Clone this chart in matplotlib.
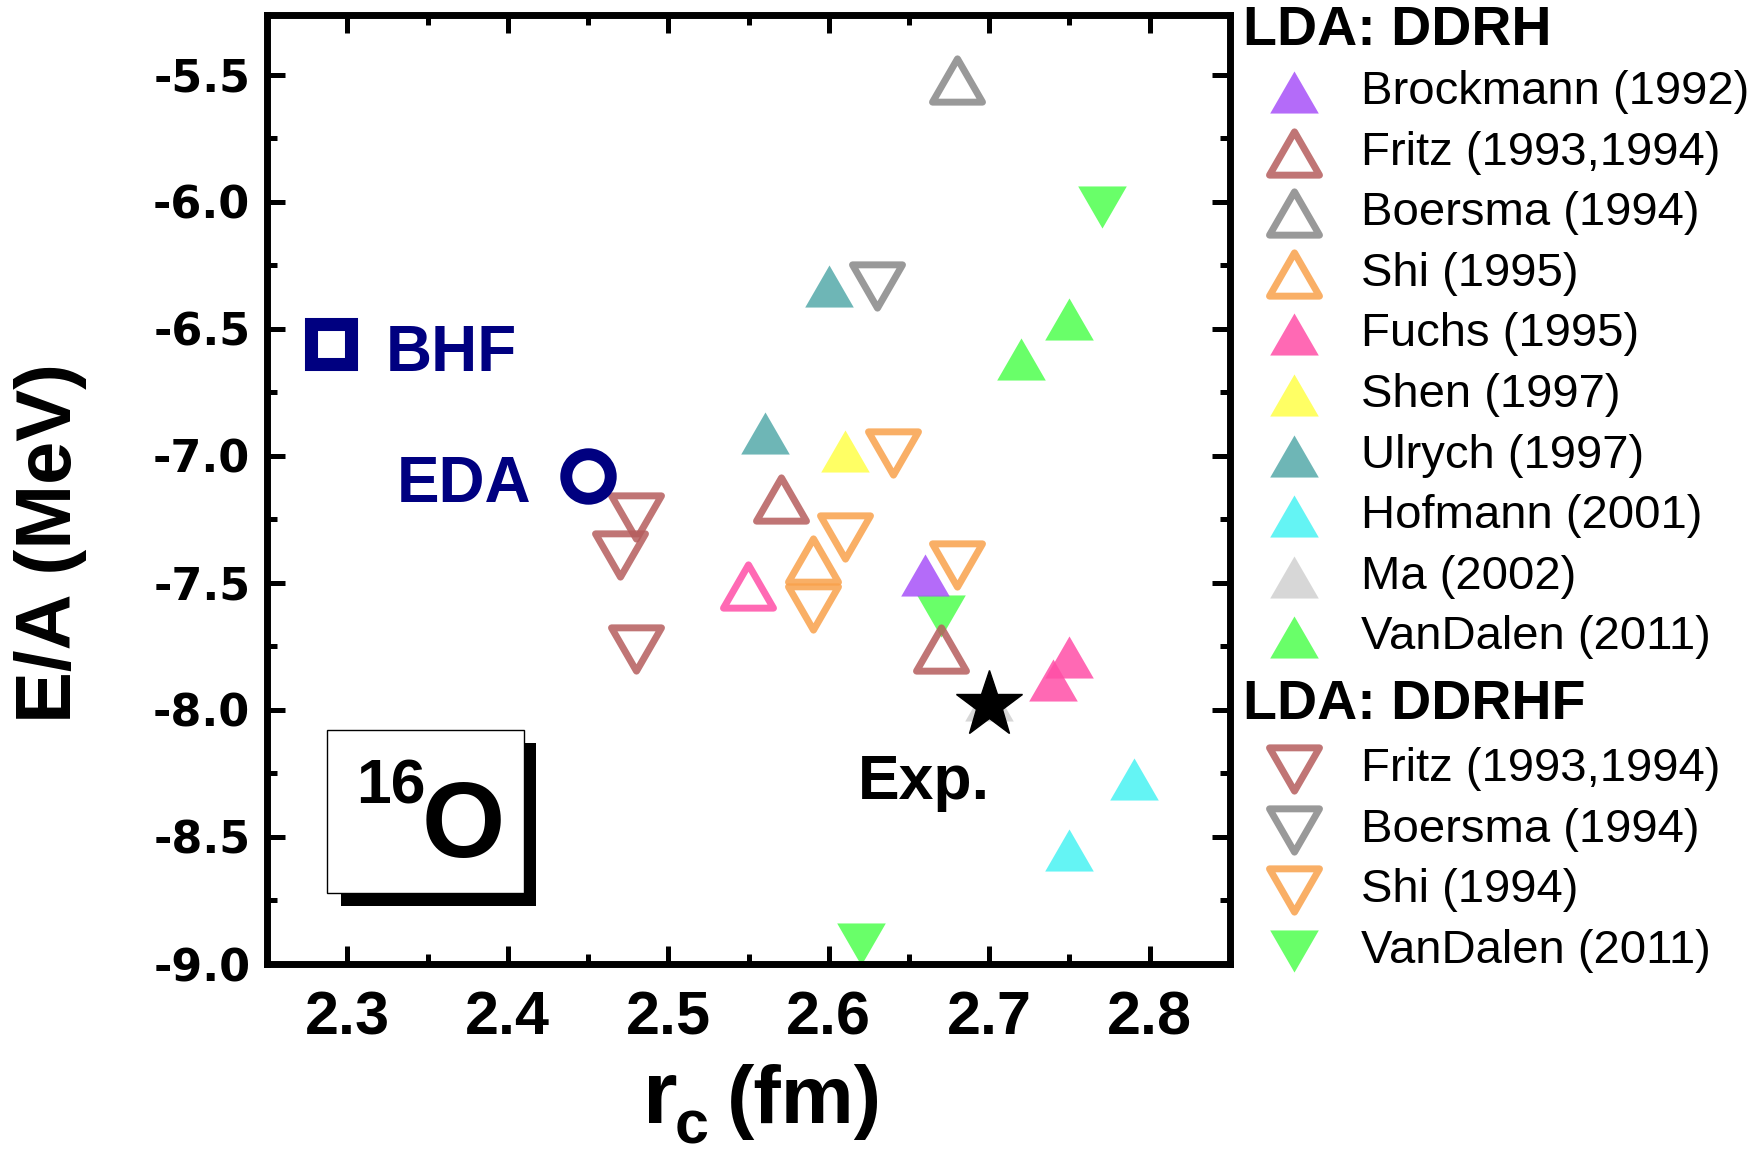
import matplotlib
matplotlib.use("Agg")
import matplotlib.pyplot as plt
from matplotlib.markers import MarkerStyle
from matplotlib.path import Path
from matplotlib.patches import Rectangle
from matplotlib.ticker import MultipleLocator

plt.rcParams['font.family'] = ['Liberation Sans', 'DejaVu Sans']

# LDA: DDRH (up triangles)
ddrh_labels = ["Brockmann (1992)", "Fritz (1993,1994)", "Boersma (1994)", "Shi (1995)",
               "Fuchs (1995)", "Shen (1997)", "Ulrych (1997)", "Hofmann (2001)",
               "Ma (2002)", "VanDalen (2011)"]
ddrh_x = [[2.66], [2.57, 2.67], [2.68], [2.59], [2.74, 2.75], [2.61], [2.56, 2.60],
          [2.79, 2.75], [2.70], [2.72, 2.75]]
ddrh_y = [[-7.47], [-7.17, -7.76], [-5.52], [-7.41], [-7.88, -7.79], [-6.98], [-6.91, -6.33],
          [-8.27, -8.55], [-7.96], [-6.62, -6.46]]
ddrh_colors = ["#A751F9", "#B55D5D", "#878787", "#F9A14B", "#FF4FA7", "#FFFF49",
               "#55AAAA", "#49F3F3", "#D1D1D1", "#4FFF4F"]
ddrh_filled = [True, False, False, False, True, True, True, True, True, True]

# extra open Fuchs point
fuchs_open_x = [2.55]
fuchs_open_y = [-7.51]

# LDA: DDRHF (down triangles)
ddrhf_labels = ["Fritz (1993,1994)", "Boersma (1994)", "Shi (1994)", "VanDalen (2011)"]
ddrhf_x = [[2.48, 2.47, 2.48], [2.63], [2.64, 2.61, 2.59, 2.68], [2.77, 2.67, 2.62]]
ddrhf_y = [[-7.24, -7.39, -7.76], [-6.33], [-6.99, -7.32, -7.60, -7.43], [-6.02, -7.63, -8.92]]
ddrhf_colors = ["#B55D5D", "#878787", "#F9A14B", "#4FFF4F"]
ddrhf_filled = [False, False, False, True]

bhf_x, bhf_y = [2.29], [-6.56]
eda_x, eda_y = [2.45], [-7.08]
exp_x, exp_y = [2.70], [-7.98]

W, H = 1764, 1153
fig = plt.figure(figsize=(W / 100, H / 100), dpi=100)
ax = fig.add_axes([267 / W, 1 - 964 / H, 963 / W, 949 / H])

up = MarkerStyle(Path([(0, 0.866), (-1, -0.866), (1, -0.866), (0, 0.866)], closed=True),
                 joinstyle='round')
down = MarkerStyle(Path([(0, -0.866), (-1, 0.866), (1, 0.866), (0, -0.866)], closed=True),
                   joinstyle='round')


def draw(a, x, y, marker, color, filled):
    if filled:
        a.plot(x, y, ls='none', marker=marker, ms=35, mfc=color, mec='none',
               alpha=0.85, clip_on=False)
    else:
        a.plot(x, y, ls='none', marker=marker, ms=36, mfc='none', mec=color,
               mew=5, alpha=0.85, clip_on=False)


for x, y, c, f in zip(ddrhf_x, ddrhf_y, ddrhf_colors, ddrhf_filled):
    draw(ax, x, y, down, c, f)
for x, y, c, f in zip(ddrh_x, ddrh_y, ddrh_colors, ddrh_filled):
    draw(ax, x, y, up, c, f)
draw(ax, fuchs_open_x, fuchs_open_y, up, ddrh_colors[4], False)

ax.plot(bhf_x, bhf_y, ls='none', marker='s', ms=29, mfc='none', mec='#000080', mew=9.4)
ax.plot(eda_x, eda_y, ls='none', marker='o', ms=32, mfc='none', mec='#000080', mew=8.6)
ax.plot(exp_x, exp_y, ls='none', marker='*', ms=50, color='black', zorder=5)

ax.text(2.324, -6.667, "BHF", color='#000080', fontsize=46, fontweight='bold',
        ha='left', va='baseline')
ax.text(2.415, -7.18, "EDA", color='#000080', fontsize=46, fontweight='bold',
        ha='right', va='baseline')
ax.text(2.618, -8.35, "Exp.", color='black', fontsize=45, fontweight='bold',
        ha='left', va='baseline')

ax.set_xlim(2.25, 2.85)
ax.set_ylim(-9.0, -5.264)
ax.xaxis.set_minor_locator(MultipleLocator(0.05))
ax.yaxis.set_minor_locator(MultipleLocator(0.25))
ax.set_xticks([2.3, 2.4, 2.5, 2.6, 2.7, 2.8])
ax.set_xticklabels(["2.3", "2.4", "2.5", "2.6", "2.7", "2.8"])
ax.set_yticks([-5.5, -6.0, -6.5, -7.0, -7.5, -8.0, -8.5, -9.0])
ax.set_yticklabels(["-5.5", "-6.0", "-6.5", "-7.0", "-7.5", "-8.0", "-8.5", "-9.0"])
ax.tick_params(which='both', direction='in', top=True, right=True, width=3.6)
ax.tick_params(which='major', length=13)
ax.tick_params(which='minor', length=7)
ax.tick_params(axis='x', pad=19)
ax.tick_params(axis='y', pad=12)
for lab in ax.get_xticklabels():
    lab.set_fontsize(44)
    lab.set_fontweight('bold')
for lab in ax.get_yticklabels():
    lab.set_fontsize(32)
    lab.set_fontweight('bold')
    lab.set_family('DejaVu Sans')
for s in ax.spines.values():
    s.set_linewidth(5)

# overlay in pixel coordinates for labels, inset box and legend
ov = fig.add_axes([0, 0, 1, 1])
ov.set_xlim(0, W)
ov.set_ylim(H, 0)
ov.axis('off')

ov.text(51, 543, "E/A (MeV)", rotation=90, fontsize=56, fontweight='bold',
        ha='center', va='center')
ov.text(643, 1123, "r", fontsize=64, fontweight='bold', ha='left', va='baseline')
ov.text(675, 1143, "c", fontsize=44, fontweight='bold', ha='left', va='baseline')
ov.text(727, 1123, "(fm)", fontsize=59, fontweight='bold', ha='left', va='baseline')

# 16O box
ov.add_patch(Rectangle((341, 743), 195, 163, facecolor='black', edgecolor='none'))
ov.add_patch(Rectangle((327, 730), 197, 163, facecolor='white', edgecolor='black', lw=1))
ov.text(356, 803, "16", fontsize=45, fontweight='bold', ha='left', va='baseline')
ov.text(422, 857, "O", fontsize=77, fontweight='bold', ha='left', va='baseline')

# legend
row = 60.6
ov.text(1243, 31, "LDA: DDRH", fontsize=40, fontweight='bold', ha='left', va='center')
for i, (lab, c, f) in enumerate(zip(ddrh_labels, ddrh_colors, ddrh_filled)):
    yy = 92 + i * row
    draw(ov, [1294], [yy], up, c, f)
    ov.text(1361, yy, lab, fontsize=34, ha='left', va='center')
ov.text(1243, 705, "LDA: DDRHF", fontsize=40, fontweight='bold', ha='left', va='center')
for i, (lab, c, f) in enumerate(zip(ddrhf_labels, ddrhf_colors, ddrhf_filled)):
    yy = 769 + i * row
    draw(ov, [1294], [yy], down, c, f)
    ov.text(1361, yy, lab, fontsize=34, ha='left', va='center')

fig.savefig("out.png", dpi=100)
